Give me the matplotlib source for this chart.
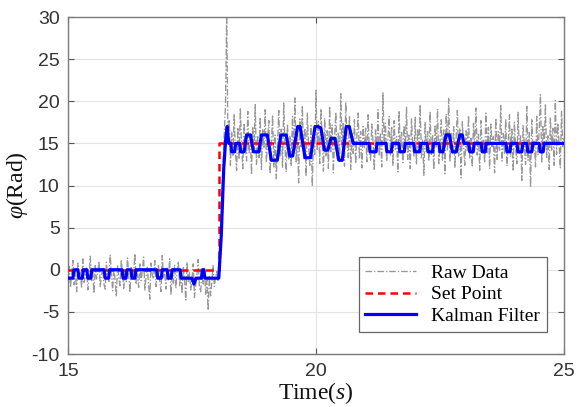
import numpy as np
import matplotlib
matplotlib.use("Agg")
import matplotlib.pyplot as plt

# ---- raw sensor samples (rad), 40 Hz from t = 15 s ----
raw_t0 = 15.0
raw_dt = 0.025
raw_pre = [
    -1.2, 0.4, -2.1, -0.5, 1.1, -1.8, -0.2, -2.6, 0.8, -1.0,
    -0.3, -2.2, 1.3, -1.5, -0.7, 0.2, -2.4, -0.9, 1.6, -1.3,
    -0.1, -2.8, 0.5, -1.1, -0.4, 1.0, -2.0, -0.6, 0.3, -1.7,
    -2.3, 0.9, -0.8, -1.4, 1.8, -0.2, -2.5, 0.1, -1.2, -3.2,
    0.6, -0.9, -1.9, 1.2, -0.4, -2.2, 0.0, -1.5, 1.4, -0.7,
    -2.7, 0.4, -1.0, -0.3, 1.9, -1.6, -0.5, -2.1, 0.7, -1.3,
    -0.1, 1.5, -2.4, -0.8, 0.3, -1.8, -3.5, 0.8, -0.6, -1.1,
    1.1, -2.0, -0.4, 0.5, -1.4, -2.6, 1.7, -0.9, -0.2, -2.3,
    0.2, -1.2, 1.3, -3.0, -0.7, -1.6, 0.6, -2.2, -0.1, 1.0,
    -1.9, -0.5, -2.8, 0.4, -1.1, -3.6, 0.9, -1.5, -0.3, -2.4,
    -1.0, 0.7, -3.3, -1.8, -0.6, 1.2, -2.1, -2.6, -0.4, -1.7,
    0.3, -2.9, -1.2, -4.8, -0.8, -3.1, -1.5, 0.5, -2.0, -0.9,
    -0.2, -1.4,
]
raw_step = [0.5, 3.5, 8.0, 12.5, 16.0, 19.5, 30.5, 15.0]
raw_post = [
    17.8, 12.4, 16.3, 13.6, 18.5, 14.2, 11.8, 16.9, 13.1, 19.2,
    14.7, 12.0, 17.4, 15.3, 12.9, 18.8, 13.8, 16.1, 11.3, 17.0,
    14.0, 19.6, 12.5, 15.8, 13.3, 18.1, 11.9, 16.6, 14.4, 19.0,
    12.7, 15.6, 17.7, 11.4, 14.9, 18.4, 12.2, 16.0, 10.8, 15.2,
    18.9, 13.5, 16.7, 12.1, 19.8, 14.5, 11.6, 17.3, 13.0, 15.9,
    12.3, 18.2, 14.1, 20.4, 12.8, 16.4, 10.3, 17.9, 14.6, 19.5,
    13.2, 16.8, 11.1, 18.6, 14.8, 12.4, 17.1, 9.9, 15.5, 13.7,
    21.3, 14.3, 17.6, 12.6, 19.1, 15.1, 11.7, 18.0, 13.4, 16.5,
    12.0, 19.4, 14.0, 17.2, 11.5, 15.7, 18.7, 13.1, 16.2, 12.9,
    20.9, 14.6, 17.5, 12.3, 19.9, 15.0, 13.3, 18.3, 11.9, 16.3,
    13.8, 17.8, 12.6, 15.9, 18.6, 13.2, 16.4, 12.1, 17.0, 14.4,
    16.8, 12.8, 18.4, 14.1, 13.0, 17.3, 15.2, 11.8, 16.6, 14.0,
    19.0, 13.5, 16.1, 12.2, 21.0, 14.8, 17.4, 12.9, 15.6, 18.2,
    13.6, 16.9, 12.4, 17.7, 14.3, 15.8, 11.6, 18.9, 13.9, 16.3,
    12.7, 17.1, 14.6, 19.3, 13.1, 16.0, 12.0, 17.9, 14.9, 13.4,
    18.1, 12.5, 16.7, 14.2, 19.6, 13.3, 15.4, 11.2, 17.5, 14.0,
    16.4, 12.9, 18.8, 13.7, 15.9, 11.9, 17.2, 14.5, 19.1, 12.6,
    15.3, 17.8, 13.0, 16.6, 11.4, 18.5, 14.1, 20.3, 12.8, 16.2,
    13.8, 17.0, 12.1, 15.7, 18.9, 13.5, 16.8, 10.9, 17.6, 14.7,
    12.4, 16.5, 14.0, 18.3, 13.2, 15.6, 12.2, 17.4, 14.8, 19.2,
    13.6, 16.1, 11.8, 17.7, 14.3, 15.5, 12.7, 18.6, 13.9, 16.9,
    12.0, 17.3, 14.6, 15.8, 11.5, 18.0, 13.1, 16.4, 14.2, 19.5,
    12.9, 16.2, 13.7, 17.9, 12.3, 15.1, 18.4, 13.4, 16.7, 11.7,
    17.5, 14.4, 12.6, 18.7, 13.8, 16.0, 10.6, 17.1, 14.9, 12.5,
    19.4, 13.0, 16.3, 9.8, 17.8, 14.1, 15.4, 12.2, 18.2, 13.6,
    16.6, 20.8, 12.8, 17.0, 14.5, 19.7, 13.3, 15.9, 11.9, 18.1,
    14.2, 16.8, 12.4, 20.1, 13.7, 17.4, 15.0, 12.1, 18.8, 14.6,
    15.6,
]

# ---- commanded set point ----
sp_time = [15.0, 18.05, 18.05, 25.0]
sp_value = [0.0, 0.0, 15.0, 15.0]

# ---- Kalman filter estimate (breakpoints) ----
kf_time = [
    15.00, 15.10, 15.12, 15.20, 15.22, 15.29, 15.31, 15.38, 15.40, 15.46, 15.48,
    15.73, 15.75, 15.82, 15.84,
    16.09, 16.11, 16.17, 16.19,
    16.27, 16.29, 16.35, 16.37,
    16.79, 16.81, 16.88, 16.90,
    17.00, 17.02, 17.08, 17.10,
    17.26, 17.28, 17.50, 17.54, 17.58, 17.69, 17.71, 17.74, 17.76, 18.04,
    18.09, 18.14, 18.18, 18.21, 18.24, 18.28, 18.30, 18.36, 18.38, 18.46,
    18.48, 18.55, 18.60, 18.68, 18.74, 18.85, 18.90, 19.02, 19.10, 19.22,
    19.29, 19.40, 19.47, 19.53, 19.63, 19.68, 19.78, 19.89, 19.98, 20.04,
    20.10, 20.17, 20.24, 20.30, 20.38, 20.46, 20.53, 20.61, 20.67, 20.75,
    21.07, 21.09, 21.21, 21.23,
    21.41, 21.43, 21.52, 21.54,
    21.67, 21.69, 21.78, 21.80,
    21.97, 21.99, 22.09, 22.11,
    22.24, 22.26, 22.35, 22.37,
    22.48, 22.50, 22.56, 22.59, 22.62, 22.69, 22.72, 22.75, 22.83, 22.86,
    22.90, 22.95, 22.98,
    23.08, 23.10, 23.17, 23.19,
    23.33, 23.35, 23.41, 23.43,
    23.83, 23.85, 23.91, 23.93,
    24.05, 24.07, 24.15, 24.17,
    24.25, 24.27, 24.35, 24.37,
    24.50, 24.52, 24.58, 24.60, 25.00,
]
kf_value = [
    -1, -1, 0, 0, -1, -1, 0, 0, -1, -1, 0,
    0, -1, -1, 0,
    0, -1, -1, 0,
    0, -1, -1, 0,
    0, -1, -1, 0,
    0, -1, -1, 0,
    0, -1, -1, -1.7, -1, -1, 0, 0, -1, -1,
    4, 12, 15.5, 17, 15, 15, 14, 14, 15, 15,
    14, 14, 16, 16, 14, 14, 16, 16, 13, 13,
    16, 16, 13.5, 13.5, 17, 17, 13.3, 13.3, 17, 17,
    16.8, 14.2, 14.2, 15.6, 15.6, 13, 13, 17, 17, 15,
    15, 14, 14, 15,
    15, 14, 14, 15,
    15, 14, 14, 15,
    15, 14, 14, 15,
    15, 14, 14, 15,
    15, 14, 14, 15, 16, 16, 15, 14, 14, 15,
    16, 16, 15,
    15, 14, 14, 15,
    15, 14, 14, 15,
    15, 14, 14, 15,
    15, 14, 14, 15,
    15, 14, 14, 15,
    15, 14, 14, 15, 15,
]

x_ticks = [15, 20, 25]
y_ticks = [-10, -5, 0, 5, 10, 15, 20, 25, 30]

raw_value = raw_pre + raw_step + raw_post
raw_time = raw_t0 + raw_dt * np.arange(len(raw_value))

plt.rcParams["axes.unicode_minus"] = False
plt.rcParams["mathtext.fontset"] = "custom"
plt.rcParams["mathtext.rm"] = "Liberation Serif"
plt.rcParams["mathtext.it"] = "Liberation Serif:italic"

serif = ["Liberation Serif", "DejaVu Serif"]
sans = ["Liberation Sans", "DejaVu Sans"]

fig = plt.figure(figsize=(5.77, 4.07), dpi=100)
ax = fig.add_axes([0.1178, 0.1302, 0.8597, 0.828])

ax.plot(raw_time, raw_value, color="#979797", lw=0.95,
        ls=(0, (5, 1.5, 1, 1.5)), label="Raw Data", zorder=2)
ax.plot(sp_time, sp_value, color="#ff0000", lw=1.8, ls=(0, (3, 2)),
        label="Set Point", zorder=3)
ax.plot(kf_time, kf_value, color="#0000ff", lw=2.3, solid_joinstyle="round",
        label="Kalman Filter", zorder=4)

ax.set_xlim(15, 25)
ax.set_ylim(-10, 30)
ax.set_xticks(x_ticks)
ax.set_yticks(y_ticks)
ax.grid(True, color="#e3e3e3", lw=0.8)
ax.set_axisbelow(True)

for s in ax.spines.values():
    s.set_color("#7a7a7a")
    s.set_linewidth(1.0)
ax.tick_params(direction="in", top=True, right=True, length=4,
               color="#555555", labelcolor="#333333", labelsize=14)
ax.tick_params(axis="x", pad=6.5)
ax.tick_params(axis="y", pad=6)
for lab in ax.get_xticklabels() + ax.get_yticklabels():
    lab.set_family(sans)

ax.set_xlabel("Time($s$)", family=serif, fontsize=17, color="#111111", labelpad=0)
ax.set_ylabel(r"$\varphi$(Rad)", family=serif, fontsize=17, color="#111111", labelpad=1)

leg = ax.legend(loc="lower right", bbox_to_anchor=(0.966, 0.065),
                borderaxespad=0, fancybox=False, framealpha=1,
                edgecolor="#666666", prop={"family": serif, "size": 14},
                handlelength=2.6, handletextpad=0.8, labelspacing=0.22,
                borderpad=0.35)
leg.get_frame().set_linewidth(0.9)

fig.savefig("out.png", dpi=100)
